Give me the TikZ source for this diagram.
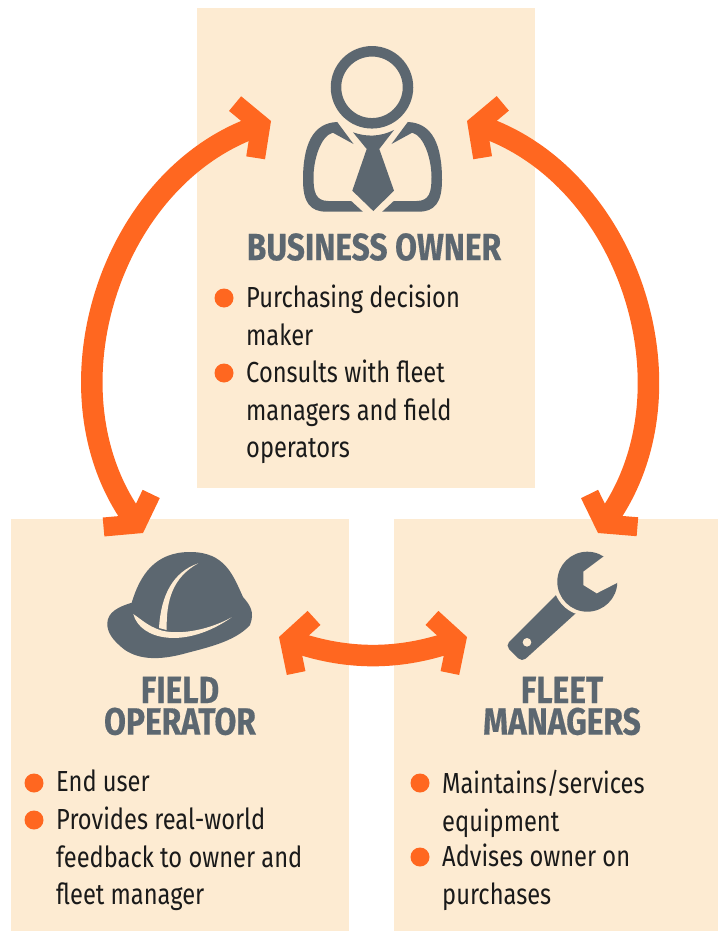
\documentclass[tikz,border=0pt]{standalone}
\usepackage{fontspec}
\setmainfont[FakeStretch=0.816]{Fira Sans}
\newfontfamily\headfont[FakeStretch=0.835, BoldFeatures={FakeBold=0.4}]{Fira Sans}
\usetikzlibrary{arrows.meta}
\definecolor{panelcol}{HTML}{FDEBD2}
\definecolor{accentcol}{HTML}{FF6720}
\definecolor{iconcol}{HTML}{5C6770}
\definecolor{textcol}{HTML}{1A1A1A}
\tikzset{
    panel/.style={fill=panelcol, inner sep=0pt, anchor=north west},
    flow/.style={draw=accentcol, line width=21.5pt,
        {Straight Barb[length=16.5pt, width=58pt, line width=19pt, color=accentcol]}-{Straight Barb[length=16.5pt, width=58pt, line width=19pt, color=accentcol]}},
    bullet/.style={circle, fill=accentcol, minimum size=19pt, inner sep=0pt},
    itemtext/.style={anchor=north west, inner sep=0pt, align=left, text=textcol, font=\fontsize{29}{37.5}\selectfont},
    heading/.style={inner sep=0pt, align=center, text=iconcol, font=\fontsize{38}{31.5}\selectfont\headfont\bfseries},
}

\begin{document}
\begin{tikzpicture}[x=1pt, y=-1pt]
    \useasboundingbox (0, 0) rectangle (718, 931);

    \node[panel, minimum width=338, minimum height=480](ownerbox) at (197, 8){};
    \node[panel, minimum width=338, minimum height=412](operatorbox) at (11, 519){};
    \node[panel, minimum width=324, minimum height=412](managerbox) at (394, 519){};

    % person
    \draw[iconcol, line width=10.5pt] (372, 87.3) circle[radius=36];
    \foreach \s in {1, -1} {
        \begin{scope}[shift={(372.5, 0)}, xscale=\s]
            \fill[iconcol] (-35.3, 122) -- (-19, 144) -- (-39.7, 132.7)
                .. controls (-52, 136) and (-59, 160) .. (-59, 177)
                .. controls (-59, 192) and (-57, 201) .. (-44, 201)
                -- (-21.3, 201) -- (-9.7, 211.7) -- (-46, 211.7)
                .. controls (-62, 211.7) and (-69.5, 203) .. (-69.5, 180)
                .. controls (-69.5, 145) and (-60, 123) .. (-35.3, 122) -- cycle;
        \end{scope}
    }
    \fill[iconcol] (353, 132.3) .. controls (366, 137) and (380, 137) .. (394, 130)
        -- (379.3, 149) -- (394, 190.7) -- (373.3, 211) -- (352.3, 190.7) -- (366.7, 149) -- cycle;

    % hat
    \fill[iconcol] (131.7, 602.7) .. controls (140, 575) and (155, 552) .. (190, 552)
        .. controls (225, 552) and (233, 575) .. (243, 597)
        .. controls (250, 605) and (255, 612) .. (250, 625)
        .. controls (235, 642) and (205, 648) .. (183, 654)
        .. controls (160, 660) and (140, 660) .. (125, 650)
        .. controls (112, 640) and (107, 632) .. (107.3, 623)
        .. controls (108, 612) and (118, 607) .. (131.7, 602.7) -- cycle;
    \fill[panelcol] (133.3, 614) .. controls (140, 640) and (185, 650) .. (231.7, 617.3)
        .. controls (205, 632) and (175, 635) .. (160, 630)
        .. controls (148, 626) and (142, 620) .. (133.3, 614) -- cycle;
    \fill[panelcol] (198.3, 563.3) .. controls (173, 572) and (161, 595) .. (159, 628)
        -- (166.7, 630) .. controls (166, 600) and (173, 577) .. (198.3, 563.3) -- cycle;

    % wrench
    \fill[iconcol, rounded corners=5pt] (565, 586) -- (505.5, 645.5) -- (522, 662) -- (590, 600.4) -- cycle;
    \fill[panelcol] (527, 642.3) circle[radius=4.3];
    \fill[panelcol] (587.3, 581.7) circle[radius=34];
    \fill[iconcol] (587.3, 581.7) circle[radius=30];
    \fill[panelcol] (607, 554) -- (583.3, 571.7) -- (583.3, 585) -- (596.7, 593.3) -- (621.7, 580.5) -- (630, 555) -- cycle;

    % arrows
    \coordinate (ownerl) at (271, 121);
    \coordinate (ownerr) at (467, 121);
    \coordinate (operatort) at (143, 533);
    \coordinate (managert) at (598, 533);
    \coordinate (operatorr) at (279, 637);
    \coordinate (managerl) at (467, 637);
    \draw[flow] (ownerl) to[bend right=52, looseness=1.03] (operatort);
    \draw[flow] (ownerr) to[bend left=52, looseness=1.03] (managert);
    \draw[flow] (operatorr) to[bend right=18] (managerl);

    % titles
    \node[heading](ownertitle) at (374, 247){BUSINESS OWNER};
    \node[heading](operatortitle) at (180, 706){FIELD\\OPERATOR};
    \node[heading](managertitle) at (562, 706){FLEET\\MANAGERS};

    % lists
    \node[bullet](o1) at (224, 298){};
    \node[bullet](o2) at (224, 373){};
    \node[itemtext](o1text) at (246, 285){Purchasing decision\\maker};
    \node[itemtext](o2text) at (246, 360){Consults with fleet\\managers and field\\operators};

    \node[bullet](f1) at (34, 783){};
    \node[bullet](f2) at (34, 820){};
    \node[itemtext](f1text) at (56, 770){End user};
    \node[itemtext](f2text) at (56, 807){Provides real-world\\feedback to owner and\\fleet manager};

    \node[bullet](m1) at (420, 783){};
    \node[bullet](m2) at (420, 857){};
    \node[itemtext](m1text) at (442, 770){Maintains/services\\equipment};
    \node[itemtext](m2text) at (442, 844){Advises owner on\\purchases};
\end{tikzpicture}
\end{document}
